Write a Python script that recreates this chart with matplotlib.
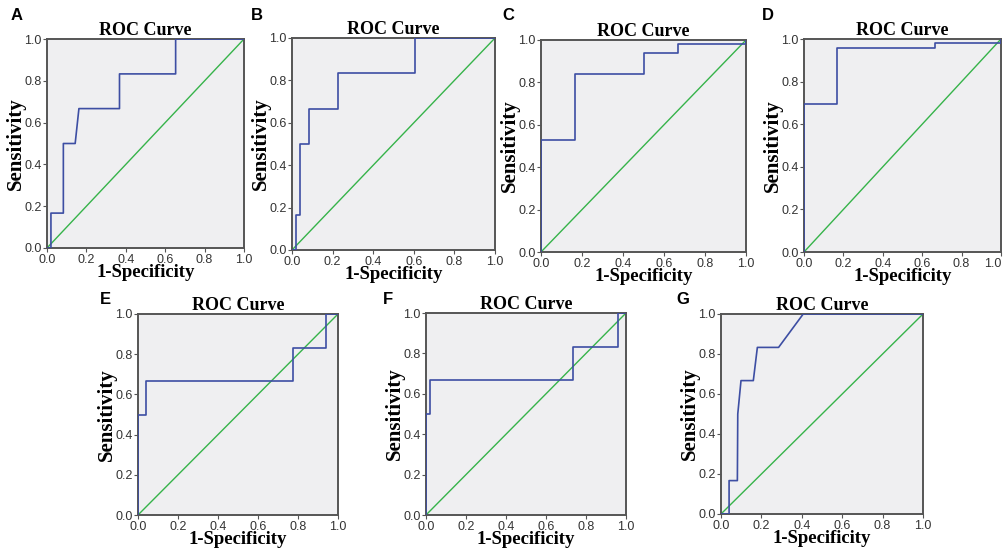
import matplotlib
matplotlib.use('Agg')
import matplotlib.pyplot as plt

# ROC curve points (1-specificity, sensitivity)
a_fpr = [0, 0.02, 0.02, 0.083, 0.083, 0.143, 0.162, 0.368, 0.368, 0.653, 0.653, 1]
a_tpr = [0, 0, 0.167, 0.167, 0.5, 0.5, 0.667, 0.667, 0.833, 0.833, 1, 1]

b_fpr = [0, 0.02, 0.02, 0.041, 0.041, 0.084, 0.084, 0.225, 0.225, 0.608, 0.608, 1]
b_tpr = [0, 0, 0.167, 0.167, 0.5, 0.5, 0.667, 0.667, 0.833, 0.833, 1, 1]

c_fpr = [0, 0, 0.167, 0.167, 0.5, 0.5, 0.667, 0.667, 1, 1]
c_tpr = [0, 0.53, 0.53, 0.838, 0.838, 0.94, 0.94, 0.98, 0.98, 1]

d_fpr = [0, 0, 0.167, 0.167, 0.667, 0.667, 1, 1]
d_tpr = [0, 0.693, 0.693, 0.96, 0.96, 0.98, 0.98, 1]

e_fpr = [0, 0, 0.04, 0.04, 0.777, 0.777, 0.938, 0.938, 1]
e_tpr = [0, 0.5, 0.5, 0.667, 0.667, 0.833, 0.833, 1, 1]

f_fpr = [0, 0, 0.02, 0.02, 0.737, 0.737, 0.96, 0.96, 1]
f_tpr = [0, 0.5, 0.5, 0.667, 0.667, 0.833, 0.833, 1, 1]

g_fpr = [0, 0.04, 0.04, 0.081, 0.083, 0.099, 0.16, 0.18, 0.285, 0.407, 1]
g_tpr = [0, 0, 0.167, 0.167, 0.5, 0.667, 0.667, 0.833, 0.833, 1, 1]

panel_letters = ['A', 'B', 'C', 'D', 'E', 'F', 'G']
ticks = [0.0, 0.2, 0.4, 0.6, 0.8, 1.0]
tick_labels = ['0.0', '0.2', '0.4', '0.6', '0.8', '1.0']

curves = [(a_fpr, a_tpr), (b_fpr, b_tpr), (c_fpr, c_tpr), (d_fpr, d_tpr),
          (e_fpr, e_tpr), (f_fpr, f_tpr), (g_fpr, g_tpr)]

# axes boxes in figure pixels: left, top, right, bottom
boxes = [(47, 39, 244, 248), (292, 38, 495, 250), (541, 40, 746, 252),
         (804, 39, 1001, 252), (138, 314, 338, 515), (426, 313, 626, 515),
         (721, 314, 923, 514)]
# letter positions in pixels
letter_pos = [(11, 15), (251, 15), (502, 15), (762, 15),
              (100, 300), (383, 300), (676, 300)]

W, H = 1006, 556
fig = plt.figure(figsize=(W / 100, H / 100), dpi=100)

serif = 'Liberation Serif'
sans = 'Liberation Sans'
spine_color = '#555555'

for (fpr, tpr), (l, t, r, b), letter, (lx, ly) in zip(curves, boxes,
                                                      panel_letters,
                                                      letter_pos):
    ax = fig.add_axes([l / W, 1 - b / H, (r - l) / W, (b - t) / H])
    ax.set_facecolor('#efeff1')
    ax.plot([0, 1], [0, 1], color='#36b34a', lw=1.0, zorder=2)
    ax.plot(fpr, tpr, color='#3d4ea3', lw=1.2, zorder=3)
    ax.set_xlim(0, 1)
    ax.set_ylim(0, 1)
    ax.set_xticks(ticks)
    ax.set_yticks(ticks)
    ax.set_xticklabels(tick_labels, family=sans, fontsize=9,
                       color='#333333')
    ax.set_yticklabels(tick_labels, family=sans, fontsize=9,
                       color='#333333')
    ax.tick_params(length=3, width=0.8, color=spine_color, pad=1)
    for s in ax.spines.values():
        s.set_color(spine_color)
        s.set_linewidth(1.4)
    ax.set_title('ROC Curve', family=serif, fontweight='bold', fontsize=13,
                 pad=3)
    ax.set_xlabel('1-Specificity', family=serif, fontweight='bold',
                  fontsize=13.5, labelpad=-1)
    ax.set_ylabel('Sensitivity', family=serif, fontweight='bold',
                  fontsize=15, labelpad=-1)
    fig.text(lx / W, 1 - ly / H, letter, family=sans, fontweight='bold',
             fontsize=12, va='center', ha='left')
    # keep the last tick label of the rightmost panel inside the figure
    if r > 990:
        ax.get_xticklabels()[-1].set_horizontalalignment('right')

plt.savefig('out.png', dpi=100)
